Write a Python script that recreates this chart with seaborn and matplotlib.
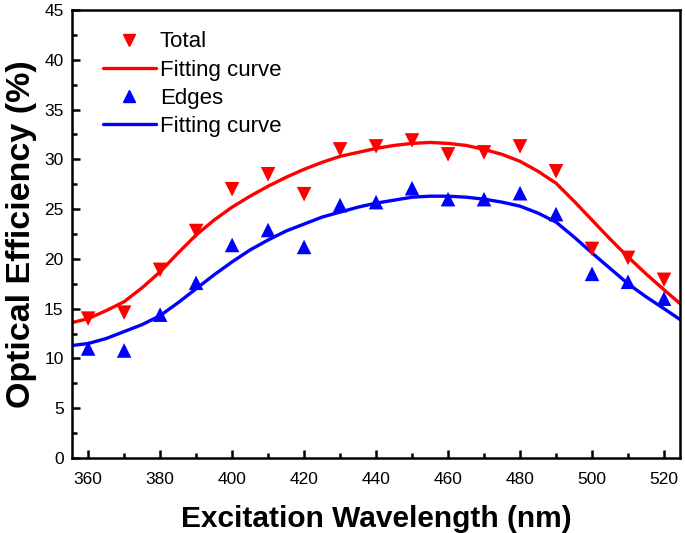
import numpy as np
import pandas as pd
import seaborn as sns
import matplotlib.pyplot as plt
from matplotlib.ticker import MultipleLocator
from matplotlib.lines import Line2D

# measured points
wavelength = [360, 370, 380, 390, 400, 410, 420, 430, 440, 450, 460, 470, 480, 490, 500, 510, 520]
total = [14.0, 14.6, 18.9, 22.8, 27.0, 28.5, 26.5, 31.0, 31.3, 31.9, 30.5, 30.7, 31.3, 28.8, 21.0, 20.1, 17.9]
edges = [11.0, 10.8, 14.4, 17.6, 21.4, 22.9, 21.2, 25.4, 25.7, 27.1, 26.0, 26.0, 26.6, 24.5, 18.5, 17.7, 16.0]

# fitting curves (every 5 nm)
fit_x = [355.5, 360, 365, 370, 375, 380, 385, 390, 395, 400, 405, 410, 415, 420, 425,
         430, 435, 440, 445, 450, 455, 460, 465, 470, 475, 480, 485, 490, 495, 500,
         505, 510, 515, 520, 524.5]
fit_total = [13.6, 14.0, 14.8, 15.7, 17.1, 18.7, 20.6, 22.4, 23.9, 25.2, 26.3, 27.3, 28.2, 29.0, 29.7,
             30.3, 30.7, 31.1, 31.4, 31.6, 31.7, 31.6, 31.4, 31.0, 30.5, 29.8, 28.8, 27.6, 25.8, 23.9,
             22.0, 20.2, 18.5, 16.9, 15.5]
fit_edges = [11.3, 11.5, 12.0, 12.7, 13.4, 14.3, 15.6, 17.0, 18.4, 19.7, 20.9, 21.9, 22.8, 23.5, 24.2,
             24.7, 25.2, 25.6, 25.9, 26.2, 26.3, 26.3, 26.2, 26.0, 25.7, 25.3, 24.6, 23.7, 22.2, 20.6,
             19.05, 17.5, 16.2, 15.0, 13.9]

RED = "#ff0000"
BLUE = "#0000ff"

sns.set_style("ticks")
plt.rcParams["font.family"] = ["Liberation Sans", "DejaVu Sans"]
plt.rcParams["text.color"] = "black"
plt.rcParams["axes.labelcolor"] = "black"
plt.rcParams["xtick.color"] = "black"
plt.rcParams["ytick.color"] = "black"

pts = pd.DataFrame({"wl": wavelength, "total": total, "edges": edges})
fits = pd.DataFrame({"wl": fit_x, "total": fit_total, "edges": fit_edges})

fig = plt.figure(figsize=(6.85, 5.33), dpi=100)
ax = fig.add_axes([0.105, 0.1407, 0.888, 0.8405])

sns.lineplot(data=fits, x="wl", y="total", color=RED, lw=2.4, ax=ax)
sns.lineplot(data=fits, x="wl", y="edges", color=BLUE, lw=2.4, ax=ax)
sns.scatterplot(data=pts, x="wl", y="total", marker="v", color=RED, s=110,
                edgecolor="none", ax=ax, zorder=3)
sns.scatterplot(data=pts, x="wl", y="edges", marker="^", color=BLUE, s=110,
                edgecolor="none", ax=ax, zorder=3)

ax.set_xlim(355.5, 524.5)
ax.set_ylim(0, 45)
ax.xaxis.set_major_locator(MultipleLocator(20))
ax.xaxis.set_minor_locator(MultipleLocator(10))
ax.yaxis.set_major_locator(MultipleLocator(5))
ax.yaxis.set_minor_locator(MultipleLocator(2.5))
ax.tick_params(which="both", direction="in", width=1.8, labelsize=12.5,
               top=False, right=False)
ax.tick_params(which="major", length=6)
ax.tick_params(which="minor", length=3.5)
ax.tick_params(axis="x", which="major", pad=10)
ax.tick_params(axis="y", which="major", pad=6)
for sp in ax.spines.values():
    sp.set_linewidth(1.8)
    sp.set_color("black")
    sp.set_visible(True)

ax.set_xlabel("Excitation Wavelength (nm)", fontsize=21.5, fontweight="bold", labelpad=13)
ax.set_ylabel("Optical Efficiency (%)", fontsize=24.5, fontweight="bold", labelpad=5)

handles = [
    Line2D([], [], ls="none", marker="v", color=RED, markersize=9),
    Line2D([], [], color=RED, lw=2.4),
    Line2D([], [], ls="none", marker="^", color=BLUE, markersize=9),
    Line2D([], [], color=BLUE, lw=2.4),
]
labels = ["Total", "Fitting curve", "Edges", "Fitting curve"]
ax.legend(handles, labels, loc="upper left", frameon=False, fontsize=16,
          handlelength=2.35, handletextpad=0.2, labelspacing=0.32,
          borderaxespad=0, bbox_to_anchor=(0.037, 0.972))

fig.savefig("out.png", dpi=100)
